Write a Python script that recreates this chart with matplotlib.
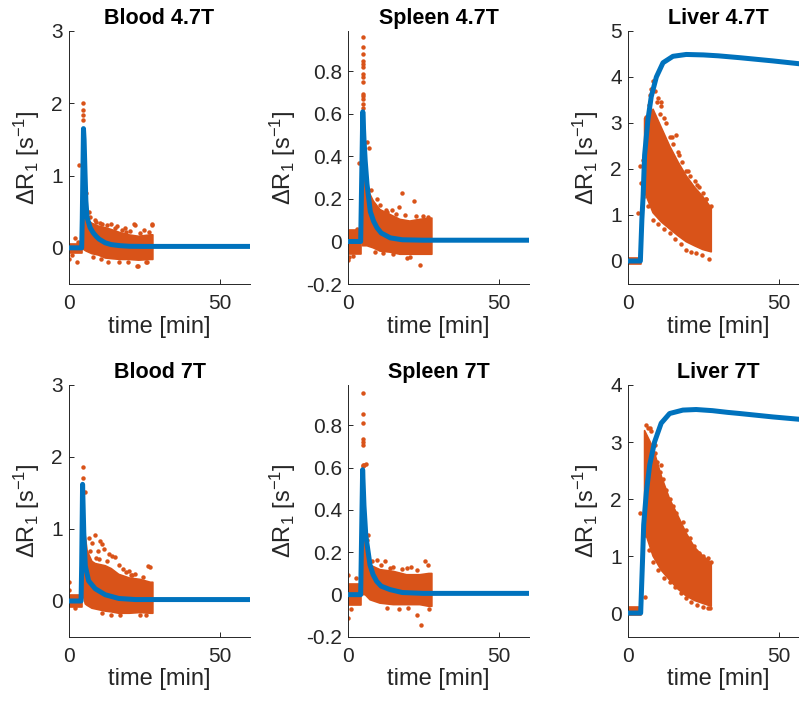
import matplotlib.pyplot as plt
from matplotlib.ticker import FuncFormatter

plt.rcParams['font.family'] = ['Liberation Sans', 'DejaVu Sans']
plt.rcParams['mathtext.fontset'] = 'custom'
plt.rcParams['mathtext.rm'] = 'Liberation Sans'
plt.rcParams['mathtext.it'] = 'Liberation Sans:italic'
plt.rcParams['axes.unicode_minus'] = False

nan = float('nan')
orange = '#D95319'
blue = '#0072BD'
grey = '#262626'

# ---------------- Blood 4.7T ----------------
blood47_fit_t = [0, 4.2, 4.4, 4.8, 5.0, 5.3, 5.6, 6.0, 7, 8, 9, 10, 12, 14, 17, 20, 25, 60]
blood47_fit_y = [0, 0, 0.4, 1.65, 1.5, 1.05, 0.65, 0.42, 0.28, 0.21, 0.16, 0.12, 0.07, 0.045, 0.03, 0.022, 0.02, 0.02]
blood47_env_t = [0, 4.4, 4.5, 4.8, 5.5, 6.0, 7.6, 9.8, 12.0, 14.3, 17.0, 19.8, 23.1, 27.0, 27.8]
blood47_env_hi = [0.06, 0.06, nan, 0.5, 0.45, 0.39, 0.34, 0.30, 0.28, 0.25, 0.21, 0.18, 0.16, 0.18, 0.18]
blood47_env_lo = [-0.07, -0.07, nan, -0.02, -0.04, -0.05, -0.08, -0.10, -0.14, -0.15, -0.16, -0.16, -0.17, -0.16, -0.16]
blood47_pts_t = [0.1, 1.9, 2.7, 3.4, 4.65, 4.65, 4.65, 4.65, 5.4, 5.6, 6.5, 8.5, 11.0, 14.0, 16.0,
                 18.7, 20.3, 21.4, 21.9, 22.4, 22.9, 24.8, 27.4, 27.5, 13.0, 25.5,
                 7.0, 9.0, 10.2, 12.5, 15.2, 17.5, 19.0, 23.5, 26.5, 8.0, 10.5, 16.5, 19.5, 26.0, 3.0, 1.0]
blood47_pts_y = [-0.16, 0.13, -0.2, 1.15, 2.0, 1.91, 1.84, 1.77, 0.73, 0.76, 0.5, 0.38, 0.33, 0.33, 0.3,
                 0.28, 0.23, 0.33, 0.32, -0.25, -0.25, 0.25, 0.32, 0.33, -0.2, -0.19,
                 0.42, 0.36, 0.35, 0.31, 0.28, 0.25, 0.22, 0.21, 0.22, -0.12, -0.15, -0.2, -0.19, -0.2, 0.08, -0.1]

# ---------------- Spleen 4.7T ----------------
spleen47_fit_t = [0, 4.2, 4.9, 5.3, 5.7, 6.3, 7.4, 8.5, 9.6, 11, 14, 18, 25, 60]
spleen47_fit_y = [0, 0, 0.61, 0.48, 0.38, 0.27, 0.14, 0.095, 0.065, 0.04, 0.017, 0.008, 0.006, 0.006]
spleen47_env_t = [0, 4.4, 4.5, 4.8, 5.5, 6.3, 8.4, 10.6, 13.9, 17.2, 20.5, 23.8, 26.8, 27.8]
spleen47_env_hi = [0.055, 0.055, nan, 0.3, 0.28, 0.25, 0.19, 0.15, 0.127, 0.104, 0.096, 0.104, 0.11, 0.11]
spleen47_env_lo = [-0.06, -0.06, nan, -0.02, -0.02, -0.02, -0.03, -0.045, -0.05, -0.06, -0.06, -0.06, -0.06, -0.06]
spleen47_pts_t = [4.95, 4.95, 4.95, 4.95, 4.95, 4.95, 4.95, 4.95, 4.95, 4.95, 4.95, 4.95, 4.95, 4.95,
                  6.27, 7.1, 3.8, 17.8, 21.9, 17.0, 26.6, 14.5, 23.8, 19.5, 15.0, 0.1, 0.3,
                  10.5, 12.5, 9.0, 11.5, 7.5, 9.5, 13.0, 16.0, 19.0, 22.5, 25.0, 20.5, 1.5, 3.0]
spleen47_pts_y = [0.964, 0.914, 0.882, 0.85, 0.835, 0.819, 0.788, 0.772, 0.749, 0.693, 0.685, 0.67, 0.646, 0.63,
                  0.466, 0.44, 0.37, 0.23, 0.19, 0.16, 0.115, 0.15, -0.11, -0.077, -0.061, -0.085, -0.075,
                  0.17, 0.15, -0.05, -0.055, 0.24, 0.2, 0.14, 0.13, 0.125, 0.12, 0.12, -0.075, -0.07, 0.06]

# ---------------- Liver 4.7T ----------------
liver47_fit_t = [0, 4.1, 4.6, 5.0, 5.5, 6.6, 7.7, 9.4, 11.6, 14.9, 19.3, 25, 30, 37, 48, 56.5, 60]
liver47_fit_y = [0, 0, 0.9, 1.4, 2.3, 3.07, 3.57, 4.0, 4.31, 4.45, 4.49, 4.48, 4.46, 4.42, 4.35, 4.29, 4.27]
liver47_env_t = [0, 4.3, 4.4, 5.5, 8.3, 11.05, 13.8, 16.6, 19.3, 22.1, 24.8, 27.6]
liver47_env_hi = [0.06, 0.06, nan, 3.1, 3.3, 2.9, 2.5, 2.15, 1.85, 1.6, 1.4, 1.15]
liver47_env_lo = [-0.07, -0.07, nan, 1.5, 1.05, 0.85, 0.7, 0.55, 0.42, 0.33, 0.25, 0.2]
liver47_pts_t = [3.3, 4.1, 4.4, 5.0, 6.1, 7.2, 7.7, 8.3, 9.0, 9.9, 10.5, 11.1, 12.5, 13.8, 15.0, 16.6,
                 18.0, 19.3, 20.5, 22.1, 23.5, 24.8, 26.0, 27.6,
                 5.0, 6.5, 8.3, 10.0, 12.0, 13.8, 15.5, 17.5, 19.3, 21.0, 22.6, 24.5, 27.0,
                 9.5, 12.0, 14.5, 17.0, 20.0, 23.0, 26.0, 6.8, 10.8, 15.8]
liver47_pts_y = [1.05, 2.06, 1.7, 2.2, 3.14, 3.6, 3.75, 3.91, 3.7, 3.54, 3.2, 3.36, 3.0, 2.7, 2.55, 2.38,
                 2.15, 1.95, 1.85, 1.73, 1.6, 1.48, 1.35, 1.19,
                 1.4, 1.2, 0.9, 0.8, 0.7, 0.61, 0.48, 0.36, 0.25, 0.2, 0.18, 0.12, 0.04,
                 3.45, 3.1, 2.7, 2.3, 1.95, 1.65, 1.35, 3.4, 3.45, 2.75]

# ---------------- Blood 7T ----------------
blood7_fit_t = [0, 4.0, 4.2, 4.5, 4.9, 5.4, 6.5, 8.7, 12, 16.5, 22, 60]
blood7_fit_y = [0, 0, 0.5, 1.62, 0.95, 0.49, 0.28, 0.17, 0.087, 0.035, 0.02, 0.02]
blood7_env_t = [0, 4.3, 4.4, 4.6, 5.4, 6.0, 7.6, 8.7, 12, 14, 16.5, 20, 23.6, 27, 27.8]
blood7_env_hi = [0.08, 0.08, nan, 0.9, 0.9, 0.7, 0.55, 0.52, 0.49, 0.45, 0.37, 0.32, 0.3, 0.26, 0.26]
blood7_env_lo = [-0.08, -0.08, nan, 0.1, -0.04, -0.06, -0.1, -0.11, -0.14, -0.15, -0.17, -0.17, -0.16, -0.17, -0.17]
blood7_pts_t = [0.0, 0.0, 4.5, 4.5, 5.4, 8.5, 10.4, 10.9, 11.5, 13.2, 14.3, 15.1, 7.6, 7.1, 9.6,
                27.0, 26.2, 14.0, 23.6, 18.0, 20.0, 22.0, 6.5, 12.5, 16.5, 9.0, 2.0,
                19.0, 21.0, 24.5, 11.0, 17.0, 25.5, 10.0, 20.5]
blood7_pts_y = [0.27, 0.15, 1.86, 1.71, 1.51, 0.92, 0.84, 0.79, 0.72, 0.65, 0.62, 0.61, 0.81, 0.70, 0.70,
                0.47, 0.49, -0.2, -0.2, 0.45, 0.42, 0.38, 0.88, 0.55, 0.5, 0.6, -0.1,
                0.4, 0.36, 0.33, -0.17, -0.2, -0.19, 0.58, 0.36]

# ---------------- Spleen 7T ----------------
spleen7_fit_t = [0, 4.2, 4.85, 5.3, 5.9, 7.3, 8.3, 9.5, 11, 13.9, 18, 25, 60]
spleen7_fit_y = [0, 0, 0.59, 0.42, 0.28, 0.14, 0.095, 0.063, 0.04, 0.024, 0.01, 0.006, 0.006]
spleen7_env_t = [0, 4.4, 4.5, 4.8, 5.7, 7.3, 10.6, 15, 19.4, 23.8, 26.8, 27.8]
spleen7_env_hi = [0.05, 0.05, nan, 0.3, 0.28, 0.14, 0.118, 0.11, 0.094, 0.094, 0.1, 0.1]
spleen7_env_lo = [-0.05, -0.05, nan, 0.0, 0.0, -0.024, -0.04, -0.047, -0.047, -0.047, -0.055, -0.055]
spleen7_pts_t = [4.85, 4.85, 4.85, 4.85, 4.85, 4.85, 4.85, 4.85, 5.9, 5.3,
                 0.0, 0.0, 9.5, 12.2, 19.4, 25.4, 26.5, 22.9, 24.1, 6.7, 6.3, 1.0, 2.5, 15.0, 17.0, 21.0,
                 8.0, 11.0, 14.0, 18.0, 23.0, 13.0, 20.0, 27.0]
spleen7_pts_y = [0.954, 0.855, 0.812, 0.737, 0.721, 0.708, 0.614, 0.608, 0.615, 0.61,
                 0.095, -0.11, 0.165, 0.16, 0.125, 0.16, 0.14, -0.097, -0.141, 0.28, 0.26, -0.07, 0.08, 0.13, -0.07, 0.13,
                 0.16, 0.14, 0.125, 0.12, 0.115, -0.065, -0.065, -0.07]

# ---------------- Liver 7T ----------------
liver7_fit_t = [0, 4.2, 4.8, 5.2, 6.1, 7.2, 8.8, 11, 13.8, 18.2, 22.6, 28, 33, 37, 48, 56.5, 60]
liver7_fit_y = [0, 0, 0.9, 1.55, 2.13, 2.6, 3.0, 3.33, 3.5, 3.56, 3.57, 3.55, 3.52, 3.5, 3.44, 3.40, 3.38]
liver7_env_t = [0, 4.3, 4.4, 5.5, 8.3, 11.05, 13.8, 16.6, 19.3, 22.1, 24.8, 27.6]
liver7_env_hi = [0.1, 0.1, nan, 3.2, 2.9, 2.4, 2.0, 1.7, 1.4, 1.15, 1.0, 0.88]
liver7_env_lo = [-0.04, -0.04, nan, 1.45, 1.0, 0.75, 0.58, 0.42, 0.3, 0.22, 0.17, 0.12]
liver7_pts_t = [6.1, 6.5, 7.2, 7.7, 8.8, 9.5, 10.5, 11.5, 12.7, 13.8, 14.9, 16.0, 18.2, 19.3, 20.4, 22.0,
                23.7, 25.0, 26.5, 27.6,
                5.5, 5.8, 7.0, 8.3, 10.0, 12.0, 13.8, 15.5, 17.5, 19.3, 21.0, 23.0, 25.0, 26.5, 27.3,
                4.1, 5.5, 9.0, 11.0]
liver7_pts_y = [3.3, 3.25, 3.25, 3.2, 2.8, 2.65, 2.48, 2.35, 2.16, 2.0, 1.87, 1.75, 1.6, 1.45, 1.31, 1.18,
                1.05, 1.0, 0.96, 0.9,
                1.72, 1.37, 1.1, 0.9, 0.75, 0.62, 0.55, 0.45, 0.35, 0.26, 0.2, 0.15, 0.11, 0.09, 0.08,
                1.75, 0.29, 2.95, 2.6]

titles = ['Blood 4.7T', 'Spleen 4.7T', 'Liver 4.7T', 'Blood 7T', 'Spleen 7T', 'Liver 7T']

fig = plt.figure(figsize=(7.99, 7.02), dpi=100)
W, H = 799.0, 702.0


def panel(left_px, top_px, bottom_px, fit_t, fit_y, env_t, env_lo, env_hi, pts_t, pts_y,
          title, ylim, yticks, ylab_x):
    ax = fig.add_axes([left_px / W, (H - bottom_px) / H, 181 / W, (bottom_px - top_px) / H])
    ax.fill_between(env_t, env_lo, env_hi, color=orange, lw=1.2, zorder=2)
    ax.plot(pts_t, pts_y, 'o', ms=3.2, color=orange, mec='none', zorder=2)
    ax.plot(fit_t, fit_y, color=blue, lw=3.6, zorder=3, solid_joinstyle='round')
    ax.set_xlim(0, 60)
    ax.set_ylim(*ylim)
    ax.set_xticks([0, 50])
    ax.set_yticks(yticks)
    ax.yaxis.set_major_formatter(FuncFormatter(lambda v, p: '%g' % round(v, 2)))
    for s in ['top', 'right']:
        ax.spines[s].set_visible(False)
    for s in ['left', 'bottom']:
        ax.spines[s].set_color(grey)
        ax.spines[s].set_linewidth(0.7)
    ax.tick_params(direction='in', length=3.5, width=0.7, color=grey,
                   labelcolor=grey, labelsize=15)
    ax.tick_params(axis='x', pad=7)
    ax.tick_params(axis='y', pad=4.5)
    ax.set_title(title, fontsize=15.5, fontweight='bold', color='black', pad=5)
    ax.set_xlabel('time [min]', fontsize=17, color=grey)
    ax.xaxis.set_label_coords(0.5, -0.125)
    ax.set_ylabel('ΔR$_1$ [s$^{-1}$]', fontsize=17, color=grey)
    ax.yaxis.set_label_coords(ylab_x, 0.5)
    return ax


panel(69, 31, 284, blood47_fit_t, blood47_fit_y, blood47_env_t, blood47_env_lo, blood47_env_hi,
      blood47_pts_t, blood47_pts_y, titles[0], (-0.5, 3), [0, 1, 2, 3], -0.15)
panel(348, 31, 284, spleen47_fit_t, spleen47_fit_y, spleen47_env_t, spleen47_env_lo, spleen47_env_hi,
      spleen47_pts_t, spleen47_pts_y, titles[1], (-0.2, 0.99), [-0.2, 0, 0.2, 0.4, 0.6, 0.8], -0.275)
panel(628, 31, 284, liver47_fit_t, liver47_fit_y, liver47_env_t, liver47_env_lo, liver47_env_hi,
      liver47_pts_t, liver47_pts_y, titles[2], (-0.5, 5), [0, 1, 2, 3, 4, 5], -0.15)
panel(69, 385, 637, blood7_fit_t, blood7_fit_y, blood7_env_t, blood7_env_lo, blood7_env_hi,
      blood7_pts_t, blood7_pts_y, titles[3], (-0.5, 3), [0, 1, 2, 3], -0.15)
panel(348, 385, 637, spleen7_fit_t, spleen7_fit_y, spleen7_env_t, spleen7_env_lo, spleen7_env_hi,
      spleen7_pts_t, spleen7_pts_y, titles[4], (-0.2, 0.99), [-0.2, 0, 0.2, 0.4, 0.6, 0.8], -0.275)
panel(628, 385, 637, liver7_fit_t, liver7_fit_y, liver7_env_t, liver7_env_lo, liver7_env_hi,
      liver7_pts_t, liver7_pts_y, titles[5], (-0.42, 4), [0, 1, 2, 3, 4], -0.15)

fig.savefig('out.png', dpi=100)
